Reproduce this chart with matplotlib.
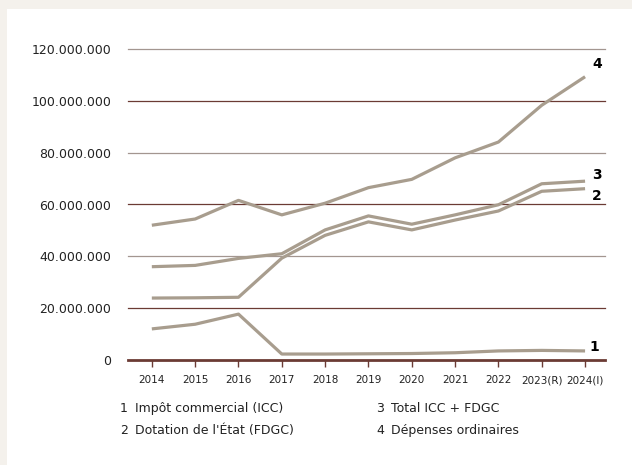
import matplotlib.pyplot as plt
from matplotlib.ticker import FuncFormatter

# data
years = ["2014", "2015", "2016", "2017", "2018", "2019", "2020",
         "2021", "2022", "2023(R)", "2024(I)"]
icc = [12.0e6, 13.8e6, 17.7e6, 2.3e6, 2.3e6, 2.4e6, 2.5e6,
       2.8e6, 3.5e6, 3.7e6, 3.5e6]
fdgc = [23.9e6, 24.0e6, 24.2e6, 39.3e6, 48.1e6, 53.3e6, 50.2e6,
        54.0e6, 57.5e6, 65.1e6, 66.1e6]
total = [36.0e6, 36.5e6, 39.2e6, 41.0e6, 50.2e6, 55.6e6, 52.4e6,
         56.0e6, 59.9e6, 68.0e6, 69.0e6]
depenses = [52.0e6, 54.4e6, 61.6e6, 56.0e6, 60.5e6, 66.5e6, 69.7e6,
            78.0e6, 84.1e6, 98.3e6, 109.3e6]
series = [("1", icc, (9, 4)), ("2", fdgc, (12, -7)),
          ("3", total, (12, 6)), ("4", depenses, (12, 13))]
legend_labels = ["Impôt commercial (ICC)", "Dotation de l'État (FDGC)",
                 "Total ICC + FDGC", "Dépenses ordinaires"]
yticks = [0, 20e6, 40e6, 60e6, 80e6, 100e6, 120e6]

plt.rcParams['font.family'] = ['DejaVu Sans']
line_col = "#a89d8e"
dark = "#6b3b34"
light = "#a39690"
txt = "#222222"

fig = plt.figure(figsize=(6.32, 4.65), dpi=100, facecolor="#f4f1ec")
# white panel behind everything
fig.patches.append(plt.Rectangle((7 / 632, 0), 1, 1 - 9 / 465,
                                 transform=fig.transFigure,
                                 facecolor="white", edgecolor="none", zorder=-10))
ax = fig.add_axes([128 / 632, 105 / 465, 477 / 632, 311 / 465])
ax.set_facecolor("none")
x = list(range(len(years)))

# gridlines, alternating colours
for i, v in enumerate(yticks[1:]):
    ax.axhline(v, color=dark if i % 2 == 0 else light, lw=0.9, zorder=1, clip_on=False)
ax.axhline(0, color=dark, lw=2, zorder=3, clip_on=False)

for num, vals, off in series:
    ax.plot(x, vals, color=line_col, lw=2.3, zorder=2, solid_capstyle="butt")
    ax.annotate(num, (x[-1], vals[-1]), xytext=off, textcoords="offset pixels",
                ha="center", va="center", fontsize=10, fontweight="bold")

ax.set_xlim(-0.55, 10.46)
ax.set_ylim(0, 120e6)
ax.set_xticks(x)
ax.set_xticklabels(years, fontsize=7.5, color=txt)
ax.set_yticks(yticks)
ax.yaxis.set_major_formatter(FuncFormatter(lambda v, p: f"{int(v):,}".replace(",", ".")))
ax.tick_params(axis="y", length=0, pad=12, labelsize=9, labelcolor=txt)
ax.tick_params(axis="x", length=5, width=1, color=dark, pad=6)
for s in ax.spines.values():
    s.set_visible(False)

# legend as text
leg_pos = [(120, 408), (120, 430), (376, 408), (376, 430)]
for i, ((px, py), lab) in enumerate(zip(leg_pos, legend_labels)):
    fig.text(px / 632, 1 - py / 465, str(i + 1), fontsize=9, va="center", color=txt)
    fig.text((px + 15) / 632, 1 - py / 465, lab, fontsize=9, va="center", color=txt)

fig.savefig("out.png", dpi=100, facecolor=fig.get_facecolor())
